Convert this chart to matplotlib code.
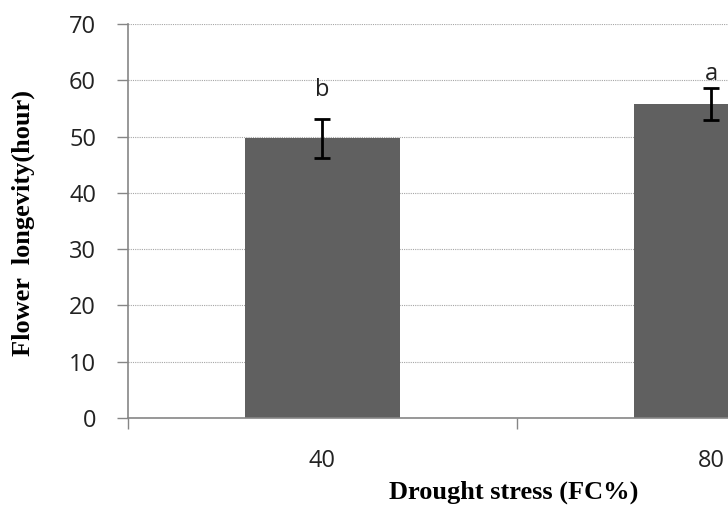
import matplotlib.pyplot as plt
import numpy as np

# data
categories = ['40', '80']
means = [49.7, 55.8]
errors = [3.45, 2.8]
letters = ['b', 'a']
letter_y = [57.2, 60.0]

fig = plt.figure(figsize=(7.28, 5.05), dpi=100)
# the original chart is cropped on the right, so the axes run past the figure edge
ax = fig.add_axes([0.1758, 0.1723, 1.0687, 0.7802])

x = np.arange(len(categories))
ax.bar(x, means, width=0.4, color='#606060', zorder=2)
ax.errorbar(x, means, yerr=errors, fmt='none', ecolor='black', elinewidth=2,
            capsize=6, capthick=2, zorder=3)

for xi, lab, ly in zip(x, letters, letter_y):
    ax.text(xi, ly, lab, ha='center', va='baseline', fontsize=17,
            family='Open Sans', color='#222222')

ax.set_xlim(-0.5, 1.5)
ax.set_ylim(0, 70)
ax.set_yticks(np.arange(0, 71, 10))
ax.yaxis.grid(True, linestyle=(0, (1, 1)), linewidth=0.8, color='#a6a6a6', zorder=0)
ax.set_axisbelow(True)

# category boundaries as major ticks, labels at the centres
ax.set_xticks([-0.5, 0.5, 1.5])
ax.set_xticklabels([])
ax.set_xticks(x, minor=True)
ax.set_xticklabels(categories, minor=True)
ax.tick_params(axis='x', which='major', length=8, width=1, color='#868686', direction='out')
ax.tick_params(axis='x', which='minor', length=0, pad=22, labelsize=17, labelcolor='#222222')
ax.tick_params(axis='y', length=8, width=1, color='#868686', direction='out',
               pad=15, labelsize=17, labelcolor='#222222')
for lab in ax.get_xticklabels(minor=True) + ax.get_yticklabels():
    lab.set_family('Open Sans')

for s in ['top', 'right']:
    ax.spines[s].set_visible(False)
for s in ['left', 'bottom']:
    ax.spines[s].set_color('#868686')
    ax.spines[s].set_linewidth(1.2)

fig.text(514 / 728, 1 - 492 / 505, 'Drought stress (FC%)', ha='center', va='center',
         fontsize=19, fontweight='bold', family='Liberation Serif')
fig.text(23 / 728, 1 - 223 / 505, 'Flower  longevity(hour)', ha='center', va='center',
         rotation=90, fontsize=19, fontweight='bold', family='Liberation Serif')

fig.savefig('out.png', dpi=100)
